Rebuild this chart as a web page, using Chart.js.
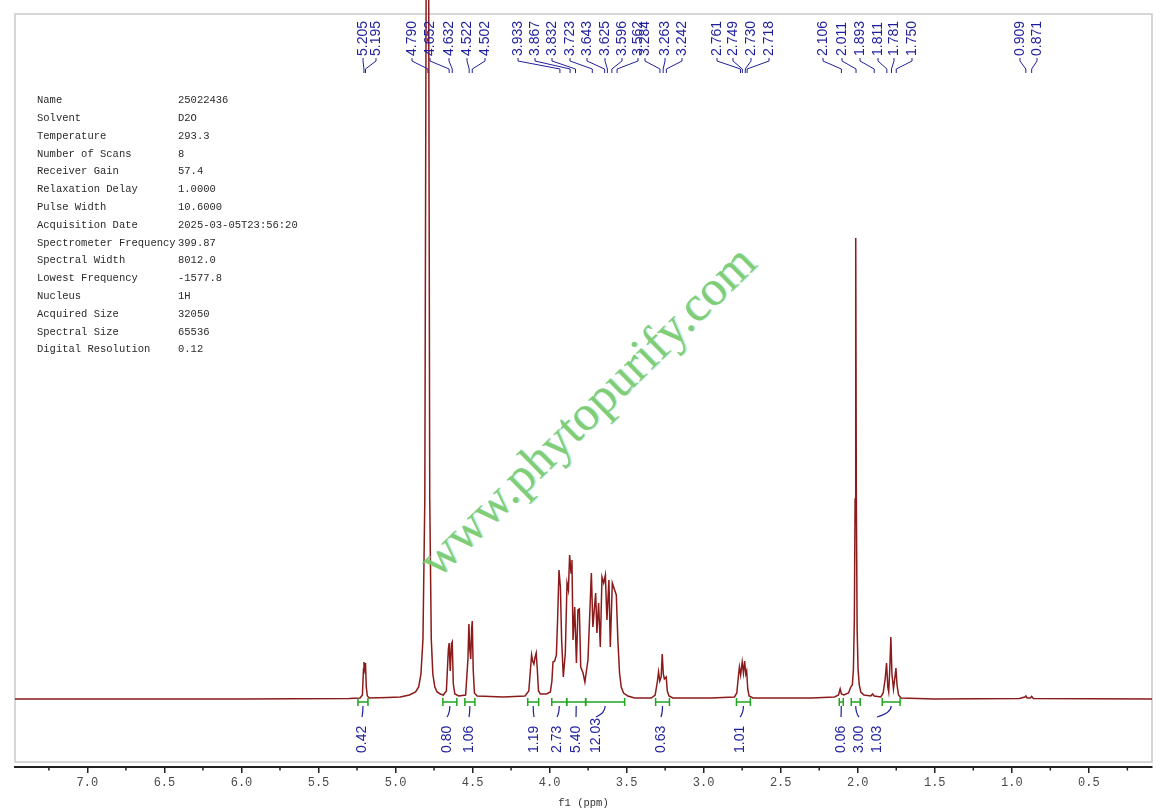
<!DOCTYPE html>
<html>
<head>
<meta charset="utf-8">
<title>1H NMR 25022436</title>
<script src="https://cdn.jsdelivr.net/npm/chart.js@4.4.1/dist/chart.umd.min.js"></script>
<style>
html,body{margin:0;padding:0;background:#fff;}
#wrap{width:1166px;height:812px;}
</style>
</head>
<body>
<div id="wrap"><canvas id="nmr" width="1166" height="812"></canvas></div>
<script>
// spectrum trace (ppm / intensity above baseline)
var specPpm = [7.47, 6.00, 5.30, 5.23, 5.215, 5.208, 5.205, 5.200, 5.195, 5.190, 5.183, 5.17,
  5.05, 4.97, 4.91, 4.87, 4.85, 4.835, 4.822, 4.810, 4.800, 4.793, 4.786, 4.778, 4.768, 4.758,
  4.745, 4.73, 4.71, 4.69, 4.670, 4.657, 4.652, 4.645, 4.637, 4.632, 4.625, 4.615, 4.59,
  4.545, 4.530, 4.524, 4.518, 4.512, 4.506, 4.502, 4.496, 4.488, 4.47, 4.30,
  4.16, 4.135, 4.124, 4.117, 4.110, 4.102, 4.094, 4.087, 4.080, 4.072, 4.06, 4.02,
  3.995, 3.985, 3.978, 3.967, 3.956, 3.948, 3.939, 3.930, 3.922, 3.911, 3.898, 3.887, 3.878,
  3.870, 3.861, 3.855, 3.848, 3.837, 3.826, 3.816, 3.807, 3.798, 3.783, 3.771, 3.751, 3.729,
  3.719, 3.701, 3.693, 3.682, 3.671, 3.660, 3.649, 3.638, 3.628, 3.615, 3.606, 3.593, 3.578,
  3.567, 3.557, 3.546, 3.535, 3.520, 3.492, 3.449,
  3.34, 3.315, 3.300, 3.293, 3.285, 3.276, 3.269, 3.262, 3.255, 3.243, 3.236, 3.225, 3.20,
  2.95, 2.80, 2.785, 2.775, 2.768, 2.760, 2.750, 2.742, 2.734, 2.727, 2.721, 2.714, 2.705, 2.68,
  2.30, 2.15, 2.125, 2.114, 2.106, 2.09, 2.06, 2.045, 2.035, 2.028, 2.022, 2.017, 2.013, 2.009,
  2.004, 1.998, 1.990, 1.980, 1.960, 1.915, 1.904, 1.893, 1.85,
  1.835, 1.822, 1.813, 1.805, 1.799, 1.792, 1.785, 1.778, 1.768, 1.760, 1.752, 1.745, 1.735, 1.72,
  1.50, 0.95, 0.915, 0.909, 0.90, 0.88, 0.871, 0.86, 0.09];
var specInt = [0, 0, 0.5, 1, 4, 30, 37, 30, 36, 12, 3, 1,
  1.5, 2, 4, 7, 12, 25, 60, 200, 800, 2000, 800, 200, 60, 25,
  12, 7, 5, 4, 8, 50, 56, 28, 55, 57, 15, 5, 3,
  4, 40, 75, 50, 40, 70, 78, 30, 6, 3, 2,
  3, 8, 30, 44, 38, 35, 42, 46, 30, 8, 5, 5,
  7, 18, 37, 38, 44, 80, 129, 112, 59, 22, 46, 116, 109,
  144, 126, 139, 59, 92, 36, 89, 90, 32, 26, 17, 39, 126,
  72, 106, 66, 96, 52, 122, 116, 124, 79, 119, 52, 116, 109,
  104, 59, 26, 12, 6, 3, 1,
  1, 4, 18, 27, 18, 22, 45, 25, 20, 22, 8, 3, 1,
  1, 2, 6, 22, 32, 24, 37, 26, 38, 25, 28, 10, 3, 1,
  1, 2, 4, 10, 5, 4, 6, 12, 14, 30, 80, 200, 461, 200,
  70, 30, 14, 7, 4, 3, 5, 3, 2,
  6, 20, 36, 12, 7, 30, 62, 25, 10, 20, 31, 14, 4, 1,
  0, 0.5, 2, 3, 1, 1, 2.5, 0.5, 0];

// picked peaks (top labels)
var peakLabels = ['5.205', '5.195', '4.790', '4.652', '4.632', '4.522', '4.502',
  '3.933', '3.867', '3.832', '3.723', '3.643', '3.625', '3.596', '3.562',
  '3.284', '3.263', '3.242', '2.761', '2.749', '2.730', '2.718',
  '2.106', '2.011', '1.893', '1.811', '1.781', '1.750', '0.909', '0.871'];

// integrals
var intFrom = [5.244, 4.693, 4.550, 4.142, 3.986, 3.889, 3.766, 3.312, 2.787, 2.120, 2.042, 1.841];
var intTo = [5.179, 4.602, 4.485, 4.071, 3.889, 3.766, 3.513, 3.222, 2.697, 2.094, 1.984, 1.725];
var intValues = ['0.42', '0.80', '1.06', '1.19', '2.73', '5.40', '12.03', '0.63', '1.01', '0.06', '3.00', '1.03'];

// acquisition parameters
var infoKeys = ['Name', 'Solvent', 'Temperature', 'Number of Scans', 'Receiver Gain', 'Relaxation Delay',
  'Pulse Width', 'Acquisition Date', 'Spectrometer Frequency', 'Spectral Width', 'Lowest Frequency',
  'Nucleus', 'Acquired Size', 'Spectral Size', 'Digital Resolution'];
var infoValues = ['25022436', 'D2O', '293.3', '8', '57.4', '1.0000', '10.6000', '2025-03-05T23:56:20',
  '399.87', '8012.0', '-1577.8', '1H', '32050', '65536', '0.12'];

// layout of the label columns (pixels)
var peakLabelX = [363, 376, 412, 430, 449, 467, 485,
  518, 535, 552, 570, 587, 605, 622, 638,
  645, 665, 682, 717, 733, 751, 769,
  823, 842, 860, 878, 894, 912, 1020, 1037];
var intLabelX = [362, 447, 469, 534, 557, 576, 596, 661, 740, 841, 859, 877];

var BLUE = '#1f1f9c';
var GREEN = '#1fa51f';

//-------------------------------------------------------------------------------------------------
var decor = {
  id: 'decor',
  beforeDatasetsDraw: function(chart) {
    var ctx = chart.ctx;
    ctx.save();
    ctx.strokeStyle = '#c9c9c9';
    ctx.lineWidth = 1.5;
    ctx.strokeRect(15, 14, 1137, 748);

    // parameter table
    ctx.fillStyle = '#2a2a2a';
    ctx.font = '10.5px "Liberation Mono"';
    ctx.textBaseline = 'middle';
    ctx.textAlign = 'left';
    for (var i = 0; i < infoKeys.length; i++) {
      var y = 100.5 + i * 17.8;
      ctx.fillText(infoKeys[i], 37, y);
      ctx.fillText(infoValues[i], 178, y);
    }
    ctx.restore();
  },
  afterDatasetsDraw: function(chart) {
    var ctx = chart.ctx;
    var xs = chart.scales.x;
    var bottom = chart.chartArea.bottom;
    ctx.save();

    // watermark
    ctx.save();
    ctx.translate(589, 413);
    ctx.rotate(-44.4 * Math.PI / 180);
    ctx.font = '50px "Liberation Serif"';
    ctx.textAlign = 'center';
    ctx.textBaseline = 'middle';
    ctx.fillStyle = 'rgba(120,220,230,0.5)';
    ctx.fillText('www.phytopurify.com', 1, 1);
    ctx.fillStyle = 'rgba(118,200,96,0.85)';
    ctx.fillText('www.phytopurify.com', 0, 0);
    ctx.restore();

    // minor ticks
    ctx.strokeStyle = '#222';
    ctx.lineWidth = 1.5;
    for (var v = 0.25; v < 7.47; v += 0.5) {
      var mx = xs.getPixelForValue(v);
      ctx.beginPath();
      ctx.moveTo(mx, bottom);
      ctx.lineTo(mx, bottom + 3.5);
      ctx.stroke();
    }

    // peak labels
    ctx.font = '14px "Liberation Sans"';
    ctx.textBaseline = 'middle';
    ctx.textAlign = 'left';
    ctx.lineWidth = 1;
    for (var i = 0; i < peakLabels.length; i++) {
      var lx = peakLabelX[i];
      var px = xs.getPixelForValue(parseFloat(peakLabels[i]));
      ctx.fillStyle = BLUE;
      ctx.save();
      ctx.translate(lx, 56);
      ctx.rotate(-Math.PI / 2);
      ctx.fillText(peakLabels[i], 0, 0);
      ctx.restore();
      ctx.strokeStyle = BLUE;
      ctx.beginPath();
      ctx.moveTo(lx, 58);
      ctx.lineTo(lx, 61);
      ctx.lineTo(px, 69);
      ctx.lineTo(px, 73);
      ctx.stroke();
    }

    // integrals
    for (var j = 0; j < intValues.length; j++) {
      var x1 = xs.getPixelForValue(intFrom[j]);
      var x2 = xs.getPixelForValue(intTo[j]);
      var cx = (x1 + x2) / 2;
      ctx.strokeStyle = GREEN;
      ctx.lineWidth = 1.5;
      ctx.beginPath();
      ctx.moveTo(x1, 702); ctx.lineTo(x2, 702);
      ctx.moveTo(x1, 698); ctx.lineTo(x1, 706);
      ctx.moveTo(x2, 698); ctx.lineTo(x2, 706);
      ctx.stroke();

      var ix = intLabelX[j];
      ctx.strokeStyle = BLUE;
      ctx.lineWidth = 1.2;
      ctx.beginPath();
      ctx.moveTo(cx, 706);
      ctx.quadraticCurveTo(cx, 713, ix, 717);
      ctx.stroke();

      ctx.fillStyle = BLUE;
      ctx.save();
      ctx.translate(ix, 753);
      ctx.rotate(-Math.PI / 2);
      ctx.fillText(intValues[j], 0, 0);
      ctx.restore();
    }
    ctx.restore();
  }
};

//-------------------------------------------------------------------------------------------------
function inicio() {
  var ctx = document.getElementById('nmr').getContext('2d');
  var puntos = specPpm.map(function(p, i) { return { x: p, y: specInt[i] }; });

  new Chart(ctx, {
    type: 'line',
    data: {
      datasets: [{
        label: '1H',
        data: puntos,
        borderColor: '#8b1a1a',
        borderWidth: 1.5,
        pointRadius: 0,
        tension: 0,
        fill: false
      }]
    },
    options: {
      responsive: false,
      animation: false,
      layout: { padding: { left: 15, right: 14, top: 0, bottom: 0 } },
      plugins: {
        legend: { display: false },
        tooltip: { enabled: false }
      },
      scales: {
        x: {
          type: 'linear',
          reverse: true,
          min: 0.09,
          max: 7.47,
          afterFit: function(scale) { scale.height = 45; },
          ticks: {
            stepSize: 0.5,
            includeBounds: false,
            autoSkip: false,
            maxRotation: 0,
            padding: 3,
            color: '#4a4a4a',
            font: { family: '"Liberation Mono"', size: 12 },
            callback: function(v) { return v.toFixed(1); }
          },
          grid: {
            display: true,
            drawOnChartArea: false,
            drawTicks: true,
            tickLength: 6,
            color: '#222',
            lineWidth: 1.5
          },
          border: { display: true, color: '#222', width: 2 },
          title: {
            display: true,
            text: 'f1 (ppm)',
            color: '#333',
            font: { family: '"Liberation Mono"', size: 10.5 },
            padding: { top: 3, bottom: 2 }
          }
        },
        y: {
          display: false,
          min: -68,
          max: 699
        }
      }
    },
    plugins: [decor]
  });
}
window.onload = inicio;
</script>
</body>
</html>
